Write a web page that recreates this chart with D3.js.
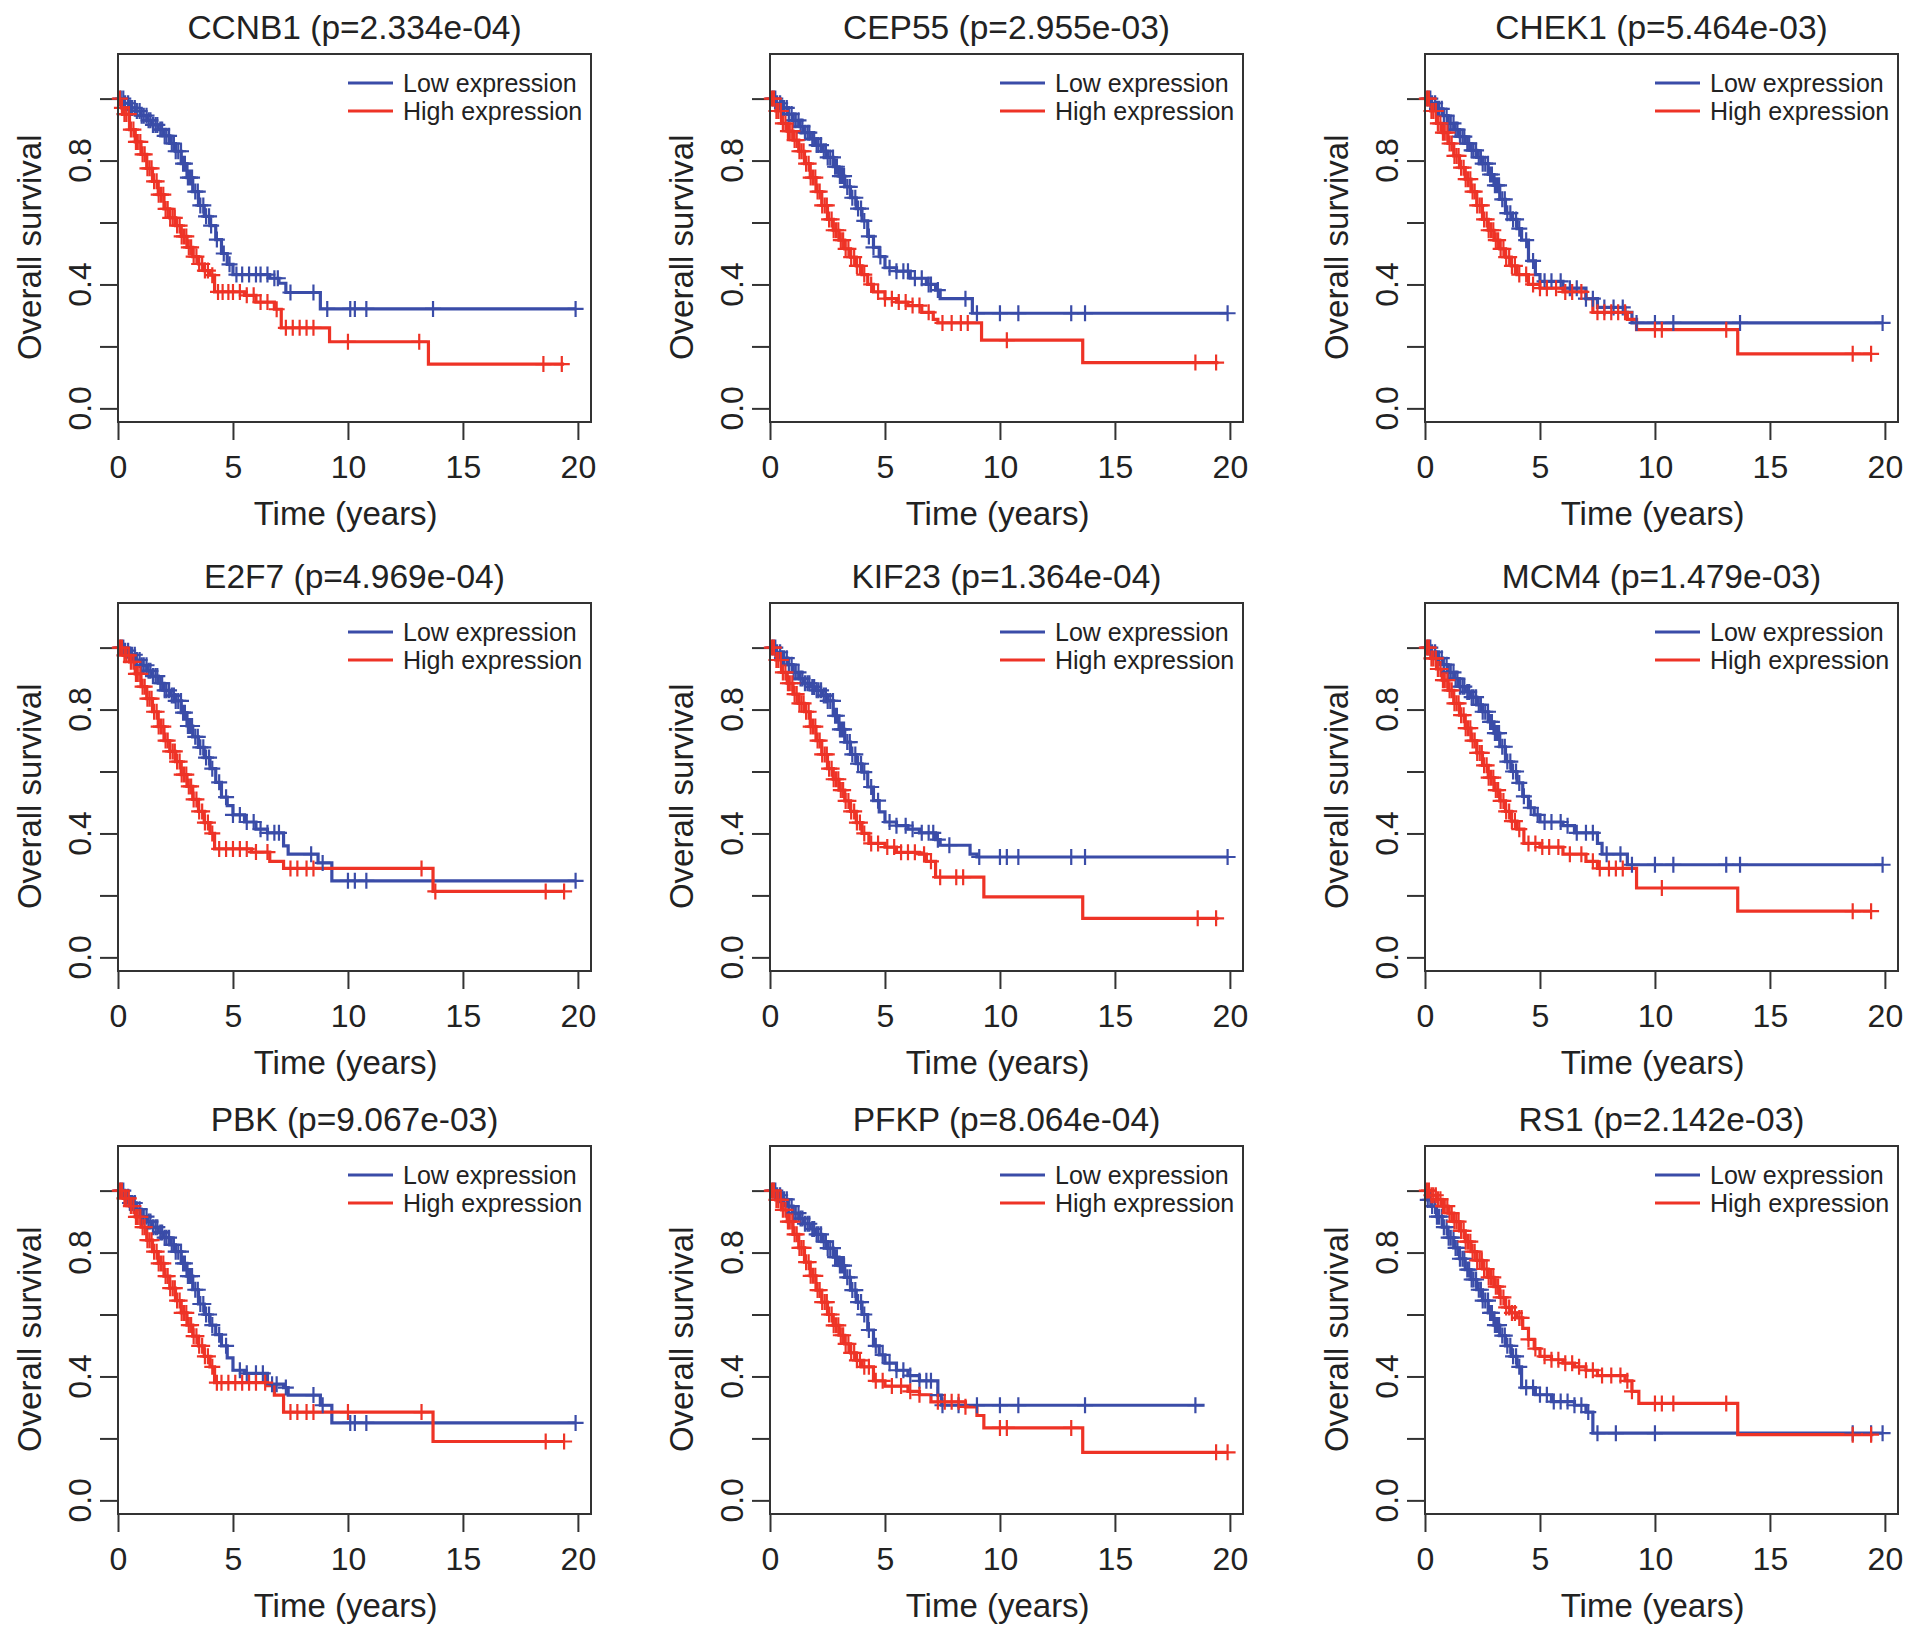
<!DOCTYPE html>
<html>
<head>
<meta charset="utf-8">
<script src="https://cdn.jsdelivr.net/npm/d3@7"></script>
<style>
  body { margin: 0; background: #fff; }
  text { font-family: "Liberation Sans", Arial, Helvetica, sans-serif; fill: #222; }
</style>
</head>
<body>
<svg id="chart" width="1913" height="1636"></svg>
<script>
// gene panels, row by row
const genes = ["CCNB1", "CEP55", "CHEK1", "E2F7", "KIF23", "MCM4", "PBK", "PFKP", "RS1"];
const pValues = ["2.334e-04", "2.955e-03", "5.464e-03", "4.969e-04", "1.364e-04", "1.479e-03", "9.067e-03", "8.064e-04", "2.142e-03"];

const xTicks = [0, 5, 10, 15, 20];
const yTicks = [0, 0.2, 0.4, 0.6, 0.8, 1.0];
const yTickLabels = [0, 0.4, 0.8];
const seriesNames = ["Low expression", "High expression"];

// Kaplan-Meier steps [time (years), survival from that time on]
const lowSurv = [
  [[0,1],[0.25,0.985],[0.5,0.97],[0.75,0.96],[1,0.945],[1.25,0.93],[1.5,0.915],[1.75,0.9],[2,0.88],[2.25,0.855],[2.5,0.83],[2.75,0.79],[3,0.745],[3.25,0.7],[3.5,0.655],[3.75,0.62],[4,0.59],[4.25,0.545],[4.5,0.5],[4.75,0.465],[5,0.432],[6.6,0.42],[7,0.404],[7.3,0.374],[8.8,0.321],[19.9,0.321]],
  [[0,1],[0.25,0.985],[0.5,0.97],[0.75,0.95],[1,0.93],[1.25,0.91],[1.5,0.89],[1.75,0.87],[2,0.85],[2.25,0.83],[2.5,0.81],[2.75,0.78],[3,0.75],[3.25,0.715],[3.5,0.68],[3.75,0.645],[4,0.605],[4.25,0.555],[4.5,0.52],[4.75,0.49],[5,0.454],[5.5,0.443],[6.1,0.42],[6.8,0.4],[7.2,0.382],[7.4,0.354],[8.8,0.307],[19.9,0.307]],
  [[0,1],[0.25,0.985],[0.5,0.967],[0.75,0.945],[1,0.92],[1.25,0.9],[1.5,0.877],[1.75,0.855],[2,0.833],[2.25,0.81],[2.5,0.79],[2.75,0.755],[3,0.72],[3.25,0.675],[3.5,0.63],[3.8,0.61],[4,0.58],[4.2,0.543],[4.5,0.476],[4.8,0.432],[5,0.41],[6,0.388],[7,0.354],[7.5,0.326],[8.7,0.31],[9,0.276],[19.9,0.276]],
  [[0,1],[0.25,0.99],[0.5,0.977],[0.75,0.96],[1,0.943],[1.25,0.925],[1.5,0.908],[1.75,0.885],[2,0.862],[2.25,0.845],[2.5,0.828],[2.75,0.79],[3,0.747],[3.25,0.712],[3.5,0.678],[3.75,0.645],[4,0.609],[4.25,0.565],[4.5,0.517],[4.75,0.49],[5,0.46],[5.5,0.437],[6,0.414],[6.5,0.402],[7.2,0.36],[7.4,0.333],[8.7,0.305],[9.3,0.247],[19.9,0.247]],
  [[0,1],[0.25,0.985],[0.5,0.966],[0.75,0.945],[1,0.92],[1.25,0.9],[1.5,0.885],[1.75,0.873],[2,0.862],[2.25,0.845],[2.5,0.828],[2.75,0.78],[3,0.736],[3.25,0.695],[3.5,0.655],[3.75,0.625],[4,0.598],[4.25,0.55],[4.5,0.506],[4.75,0.47],[5,0.437],[5.5,0.425],[6,0.414],[6.5,0.402],[7.2,0.38],[7.4,0.362],[8.7,0.333],[9,0.324],[19.9,0.324]],
  [[0,1],[0.25,0.985],[0.5,0.966],[0.75,0.945],[1,0.92],[1.25,0.9],[1.5,0.874],[1.75,0.857],[2,0.84],[2.25,0.815],[2.5,0.793],[2.75,0.76],[3,0.724],[3.25,0.68],[3.5,0.632],[3.75,0.6],[4,0.563],[4.25,0.52],[4.5,0.483],[4.75,0.46],[5,0.437],[6,0.425],[6.5,0.402],[7.5,0.368],[7.7,0.333],[8.8,0.299],[19.9,0.299]],
  [[0,1],[0.25,0.98],[0.5,0.96],[0.75,0.94],[1,0.916],[1.25,0.9],[1.5,0.882],[1.75,0.865],[2,0.848],[2.25,0.825],[2.5,0.803],[2.75,0.765],[3,0.724],[3.25,0.68],[3.5,0.634],[3.75,0.6],[4,0.566],[4.25,0.535],[4.5,0.499],[4.75,0.46],[5,0.42],[5.5,0.41],[6.5,0.375],[7.2,0.364],[7.4,0.34],[8.8,0.307],[9.3,0.25],[19.9,0.25]],
  [[0,1],[0.25,0.985],[0.5,0.972],[0.75,0.95],[1,0.927],[1.25,0.91],[1.5,0.893],[1.75,0.876],[2,0.859],[2.25,0.835],[2.5,0.814],[2.75,0.785],[3,0.758],[3.25,0.72],[3.5,0.679],[3.75,0.64],[4,0.6],[4.25,0.55],[4.5,0.499],[4.75,0.47],[5,0.443],[5.5,0.42],[6,0.403],[6.5,0.386],[7.3,0.34],[7.45,0.307],[18.9,0.307]],
  [[0,1],[0.1,0.97],[0.3,0.95],[0.5,0.916],[0.75,0.882],[1,0.848],[1.25,0.815],[1.5,0.78],[1.75,0.745],[2,0.713],[2.25,0.68],[2.5,0.645],[2.75,0.605],[3,0.566],[3.25,0.532],[3.5,0.499],[3.75,0.465],[4,0.431],[4.2,0.364],[4.8,0.341],[5.5,0.319],[6.5,0.307],[7,0.285],[7.3,0.217],[19.9,0.217]]
];

const highSurv = [
  [[0,1],[0.15,0.97],[0.25,0.95],[0.5,0.9],[0.75,0.86],[1,0.82],[1.25,0.775],[1.5,0.733],[1.75,0.69],[2,0.644],[2.25,0.615],[2.5,0.59],[2.75,0.555],[3,0.52],[3.25,0.49],[3.5,0.466],[3.75,0.445],[4,0.43],[4.2,0.376],[5.5,0.365],[6,0.343],[6.8,0.32],[7.1,0.26],[9.2,0.215],[13.5,0.143],[19.4,0.143]],
  [[0,1],[0.25,0.96],[0.5,0.92],[0.75,0.895],[1,0.866],[1.25,0.83],[1.5,0.79],[1.75,0.745],[2,0.7],[2.25,0.655],[2.5,0.61],[2.75,0.575],[3,0.543],[3.25,0.515],[3.5,0.488],[3.75,0.46],[4,0.432],[4.25,0.4],[4.5,0.376],[5,0.354],[5.5,0.343],[6,0.332],[6.6,0.31],[7.1,0.287],[7.3,0.276],[9.2,0.22],[13.6,0.148],[19.5,0.148]],
  [[0,1],[0.25,0.96],[0.5,0.92],[0.75,0.89],[1,0.855],[1.25,0.815],[1.5,0.777],[1.75,0.74],[2,0.7],[2.25,0.655],[2.5,0.61],[2.75,0.575],[3,0.543],[3.25,0.515],[3.5,0.488],[3.75,0.46],[4,0.432],[4.5,0.4],[5,0.388],[6,0.376],[7,0.354],[7.3,0.31],[8.8,0.287],[9.2,0.254],[13.6,0.176],[19.4,0.176]],
  [[0,1],[0.25,0.975],[0.5,0.954],[0.75,0.915],[1,0.874],[1.25,0.835],[1.5,0.793],[1.75,0.745],[2,0.7],[2.25,0.665],[2.5,0.632],[2.75,0.59],[3,0.552],[3.25,0.51],[3.5,0.471],[3.75,0.435],[4,0.4],[4.2,0.35],[5.8,0.34],[6.6,0.31],[7.2,0.287],[13.7,0.213],[19.4,0.213]],
  [[0,1],[0.25,0.96],[0.5,0.92],[0.75,0.885],[1,0.85],[1.25,0.82],[1.5,0.793],[1.75,0.745],[2,0.7],[2.25,0.655],[2.5,0.609],[2.75,0.575],[3,0.54],[3.25,0.505],[3.5,0.471],[3.75,0.435],[4,0.4],[4.3,0.368],[5,0.356],[5.5,0.339],[6.5,0.333],[6.8,0.31],[7.2,0.259],[9.3,0.195],[13.6,0.126],[19.5,0.126]],
  [[0,1],[0.25,0.965],[0.5,0.931],[0.75,0.895],[1,0.862],[1.25,0.82],[1.5,0.782],[1.75,0.74],[2,0.7],[2.25,0.66],[2.5,0.62],[2.75,0.58],[3,0.54],[3.25,0.505],[3.5,0.471],[3.75,0.44],[4,0.414],[4.3,0.368],[5,0.356],[6,0.333],[7,0.31],[7.5,0.287],[9.2,0.224],[13.6,0.149],[19.4,0.149]],
  [[0,1],[0.25,0.975],[0.5,0.95],[0.75,0.915],[1,0.882],[1.25,0.84],[1.5,0.803],[1.75,0.765],[2,0.724],[2.25,0.685],[2.5,0.645],[2.75,0.605],[3,0.566],[3.25,0.53],[3.5,0.499],[3.75,0.465],[4,0.431],[4.2,0.38],[6.5,0.37],[6.8,0.34],[7.2,0.285],[13.7,0.19],[19.4,0.19]],
  [[0,1],[0.25,0.97],[0.5,0.938],[0.75,0.9],[1,0.859],[1.25,0.815],[1.5,0.769],[1.75,0.725],[2,0.679],[2.25,0.64],[2.5,0.6],[2.75,0.565],[3,0.533],[3.25,0.505],[3.5,0.476],[3.75,0.452],[4,0.431],[4.5,0.386],[5,0.369],[6,0.352],[6.5,0.341],[7,0.318],[8.5,0.302],[9,0.274],[9.3,0.234],[13.6,0.155],[19.9,0.155]],
  [[0,1],[0.25,0.985],[0.5,0.972],[0.75,0.95],[1,0.927],[1.25,0.9],[1.5,0.87],[1.75,0.835],[2,0.803],[2.25,0.775],[2.5,0.747],[2.75,0.72],[3,0.69],[3.25,0.655],[3.5,0.623],[3.75,0.605],[4,0.589],[4.25,0.555],[4.5,0.52],[4.75,0.49],[5,0.465],[5.5,0.454],[6,0.443],[6.5,0.431],[7,0.42],[7.5,0.403],[8.7,0.386],[9,0.352],[9.3,0.313],[13.6,0.212],[19.5,0.212]]
];

// censoring times (years): the dense first years look alike in every panel
const earlyLowCens = [0.12,0.23,0.31,0.44,0.52,0.61,0.73,0.82,0.94,1.03,1.12,1.24,1.33,1.41,1.52,1.63,1.71,1.84,1.92,2.03,2.11,2.22,2.34,2.43,2.51,2.62,2.74,2.83,2.91,3.04,3.13,3.22,3.36,3.47,3.58,3.71,3.83,3.96];
const earlyHighCens = [0.08,0.17,0.28,0.36,0.47,0.56,0.67,0.78,0.86,0.97,1.07,1.16,1.28,1.37,1.46,1.57,1.68,1.77,1.87,1.97,2.07,2.16,2.27,2.38,2.47,2.57,2.68,2.77,2.87,2.97,3.08,3.18,3.29,3.41,3.53,3.66,3.78,3.91];

const lateLowCens = [
  [4.05,4.3,4.6,4.85,5.15,5.4,5.7,6.0,6.2,6.5,6.8,6.95,7.5,8.5,9.1,10.1,10.3,10.8,13.7,19.9],
  [4.1,4.3,4.5,4.8,5.2,5.5,5.8,6.0,6.3,6.6,6.9,7.0,7.3,8.5,9.0,10.0,10.8,13.1,13.7,19.9],
  [4.1,4.4,4.7,5.2,5.5,5.9,6.3,6.6,7.0,7.3,7.8,8.2,8.6,9.2,10.0,10.8,13.7,19.9],
  [4.1,4.4,4.7,5.0,5.3,5.6,5.9,6.2,6.5,6.8,7.0,8.4,8.9,10.0,10.3,10.8,19.9],
  [4.1,4.4,4.7,5.2,5.5,5.9,6.2,6.6,6.9,7.1,7.3,7.8,9.1,10.0,10.3,10.8,13.1,13.7,19.9],
  [4.1,4.3,4.6,4.9,5.2,5.5,5.9,6.2,6.6,7.0,7.3,7.9,8.5,9.0,10.0,10.8,13.1,13.7,19.9],
  [4.1,4.4,4.7,5.3,5.6,6.0,6.3,6.7,6.9,7.3,8.5,8.9,10.1,10.3,10.8,19.9],
  [4.1,4.3,4.6,4.9,5.2,5.5,5.8,6.1,6.5,6.8,7.0,7.3,7.5,8.2,9.0,10.0,10.8,13.7,18.5],
  [4.1,4.4,4.7,5.0,5.3,5.6,5.9,6.2,6.5,6.8,7.1,7.5,8.3,10.0,18.6,19.4,19.9]
];

const lateHighCens = [
  [4.1,4.35,4.55,4.8,5.0,5.3,5.6,5.9,6.2,6.5,6.9,7.3,7.6,7.9,8.2,8.5,10.0,13.1,18.5,19.3],
  [4.1,4.4,4.7,5.0,5.3,5.6,5.9,6.2,6.5,6.9,7.5,7.9,8.3,8.6,10.3,18.5,19.4],
  [4.1,4.4,4.7,5.0,5.3,5.7,6.1,6.4,6.8,7.5,7.8,8.1,8.4,8.7,10.0,10.3,13.1,18.6,19.4],
  [4.1,4.4,4.7,5.0,5.3,5.6,6.0,6.5,7.5,7.8,8.2,8.5,13.2,13.8,18.6,19.4],
  [4.1,4.4,4.7,5.1,5.4,5.7,6.0,6.3,6.7,7.0,7.4,8.1,8.4,18.6,19.4],
  [4.1,4.5,4.8,5.1,5.4,5.8,6.3,6.8,7.3,7.6,8.0,8.3,8.6,10.3,18.6,19.4],
  [4.1,4.3,4.5,4.8,5.1,5.4,5.7,6.0,6.4,7.5,7.8,8.2,8.5,10.0,13.2,18.6,19.4],
  [4.1,4.3,4.6,4.9,5.3,5.7,6.1,6.5,7.3,7.6,7.9,8.2,8.5,10.0,10.3,13.1,19.4,19.9],
  [4.1,4.2,4.5,4.8,5.2,5.5,5.8,6.1,6.4,6.7,7.0,7.3,7.7,8.1,8.5,8.8,9.0,10.0,10.3,10.8,13.1,18.6,19.4]
];

const colors = ["#3a4ca8", "#ee3326"];

const colLeft = [118, 770, 1425];
const rowTop = [54, 603, 1146];
const boxW = 473, boxH = 368;
const tickLen = 18;

const svg = d3.select("#chart");

function survAt(steps, t) {
  let s = steps[0][1];
  steps.forEach(d => { if (d[0] <= t) s = d[1]; });
  return s;
}

genes.forEach((gene, i) => {
  const left = colLeft[i % 3];
  const top = rowTop[Math.floor(i / 3)];

  const x = d3.scaleLinear().domain([0, 20.57]).range([left, left + boxW]);
  const y = d3.scaleLinear().domain([-0.044, 1.144]).range([top + boxH, top]);

  const g = svg.append("g");

  // title
  g.append("text")
    .attr("x", left + boxW / 2)
    .attr("y", top - 15)
    .attr("text-anchor", "middle")
    .style("font-size", "33.5px")
    .text(`${gene} (p=${pValues[i]})`);

  // x axis
  const xAxis = g.append("g")
    .attr("transform", `translate(0,${top + boxH})`)
    .call(d3.axisBottom(x).tickValues(xTicks).tickSize(tickLen).tickPadding(15).tickFormat(d3.format("d")));
  xAxis.select(".domain").remove();
  xAxis.selectAll("line").attr("stroke", "#333").attr("stroke-width", 2);
  xAxis.selectAll("text").style("font-size", "32px").attr("fill", "#222").style("font-family", "Liberation Sans, Arial, sans-serif");

  // y axis ticks
  const yAxis = g.append("g")
    .attr("transform", `translate(${left},0)`)
    .call(d3.axisLeft(y).tickValues(yTicks).tickSize(tickLen).tickFormat(""));
  yAxis.select(".domain").remove();
  yAxis.selectAll("line").attr("stroke", "#333").attr("stroke-width", 2);

  g.selectAll(".ylab")
    .data(yTickLabels)
    .enter()
    .append("text")
    .attr("transform", d => `translate(${left - 27},${y(d)}) rotate(-90)`)
    .attr("text-anchor", "middle")
    .style("font-size", "32px")
    .text(d => d3.format(".1f")(d));

  // axis titles
  g.append("text")
    .attr("x", x(9.9))
    .attr("y", top + boxH + 103)
    .attr("text-anchor", "middle")
    .style("font-size", "33px")
    .text("Time (years)");

  g.append("text")
    .attr("transform", `translate(${left - 77},${y(0.52)}) rotate(-90)`)
    .attr("text-anchor", "middle")
    .style("font-size", "33px")
    .text("Overall survival");

  // curves
  const line = d3.line()
    .x(d => x(d[0]))
    .y(d => y(d[1]))
    .curve(d3.curveStepAfter);

  const curves = [lowSurv[i], highSurv[i]];
  const cens = [earlyLowCens.concat(lateLowCens[i]), earlyHighCens.concat(lateHighCens[i])];

  curves.forEach((steps, k) => {
    g.append("path")
      .datum(steps)
      .attr("d", line)
      .attr("fill", "none")
      .attr("stroke", colors[k])
      .attr("stroke-width", 3.2);
  });

  cens.forEach((times, k) => {
    const steps = curves[k];
    g.selectAll(`.cens${k}`)
      .data(times.filter(t => t <= steps[steps.length - 1][0]))
      .enter()
      .append("path")
      .attr("d", t => {
        const cx = x(t), cy = y(survAt(steps, t));
        return `M${cx - 8},${cy}H${cx + 8}M${cx},${cy - 8}V${cy + 8}`;
      })
      .attr("stroke", colors[k])
      .attr("stroke-width", 2.2)
      .attr("fill", "none");
  });

  // box
  g.append("rect")
    .attr("x", left)
    .attr("y", top)
    .attr("width", boxW)
    .attr("height", boxH)
    .attr("fill", "none")
    .attr("stroke", "#333")
    .attr("stroke-width", 2);

  // legend
  seriesNames.forEach((name, k) => {
    const ly = top + 29 + k * 28;
    g.append("line")
      .attr("x1", left + 230).attr("x2", left + 275)
      .attr("y1", ly).attr("y2", ly)
      .attr("stroke", colors[k])
      .attr("stroke-width", 3.2);
    g.append("text")
      .attr("x", left + 285)
      .attr("y", ly)
      .attr("dominant-baseline", "central")
      .style("font-size", "25px")
      .text(name);
  });
});
</script>
</body>
</html>
